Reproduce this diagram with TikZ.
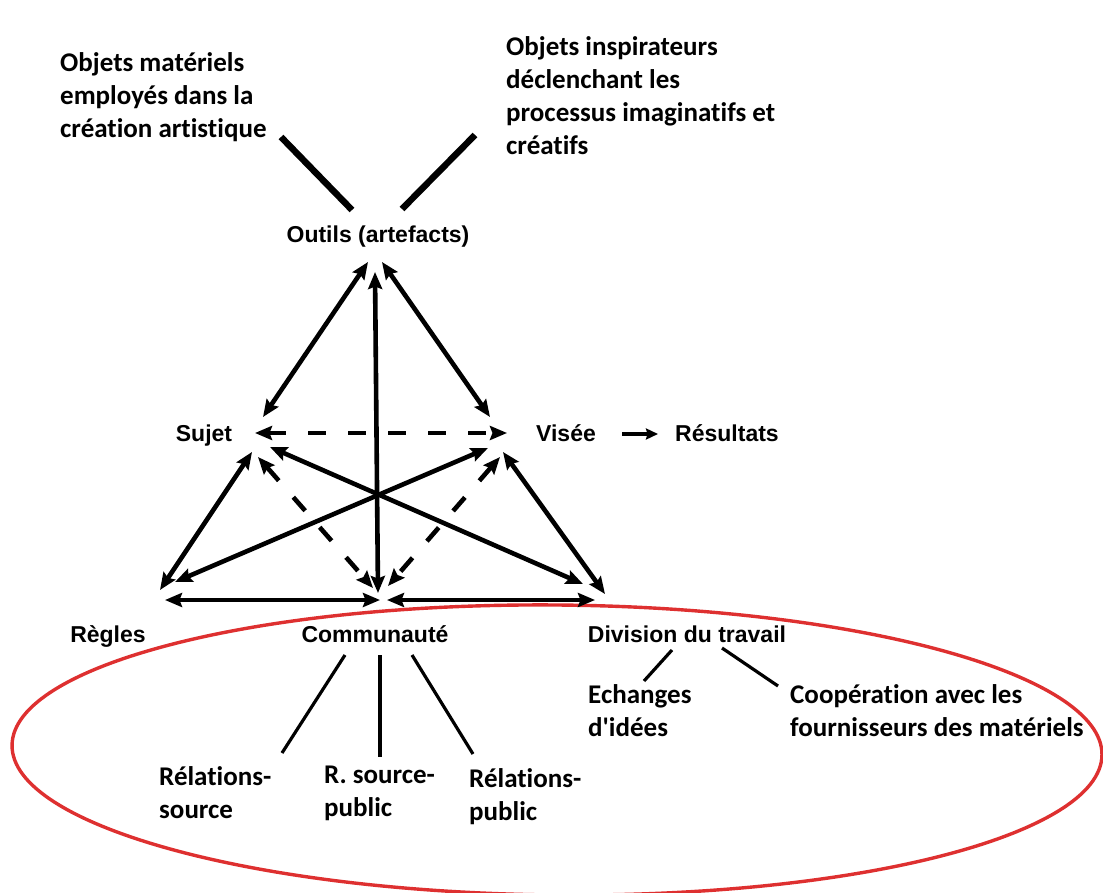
\documentclass[tikz,border=0pt]{standalone}
\usepackage{fontspec}
\setmainfont{Liberation Sans}
\newfontfamily\calib[Ligatures={NoCommon}]{Carlito}
\usetikzlibrary{arrows.meta}
\definecolor{ovalred}{RGB}{222,48,48}
\begin{document}
\begin{tikzpicture}[x=1pt,y=-1pt,
  lab/.style={font=\fontsize{23}{27}\selectfont\bfseries, inner sep=0pt, anchor=base},
  note/.style={font=\calib\fontsize{27}{33}\selectfont\bfseries, align=left, inner sep=0pt, anchor=north west},
  both/.style={line width=4.6pt, {Stealth[length=17pt,width=14pt,inset=2.5pt]}-{Stealth[length=17pt,width=14pt,inset=2.5pt]}},
  dashedboth/.style={both, dash pattern=on 18pt off 22pt},
  stem/.style={line width=6.5pt},
  branch/.style={line width=3.2pt}
]
\useasboundingbox (0,0) rectangle (1103,893);

% red oval around the community side
\draw[ovalred, line width=3.4pt, rotate around={-0.5:(557,750)}] (557,750) ellipse [x radius=545, y radius=145];

% descriptive texts
\node[note] (mat) at (60,52) {Objets matériels\\employés dans la\\création artistique};
\node[note] (insp) at (506,36) {Objets inspirateurs\\déclenchant les\\processus imaginatifs et\\créatifs};

% poles of the activity system
\node[lab] (outils) at (378,243) {Outils (artefacts)};
\node[lab] (sujet) at (204,441) {Sujet};
\node[lab] (visee) at (566,441) {Visée};
\node[lab] (result) at (727,441) {Résultats};
\node[lab] (regles) at (108,642) {Règles};
\node[lab] (comm) at (375,642) {Communauté};
\node[lab] (div) at (687,642) {Division du travail};

% sub-relations
\node[note] (rs) at (159,766) {Rélations-\\source};
\node[note] (rsp) at (324,766) {R. source-\\public};
\node[note] (rp) at (469,768) {Rélations-\\public};
\node[note] (ech) at (588,684) {Echanges\\d'idées};
\node[note] (coop) at (790,684) {Coopération avec les\\fournisseurs des matériels};

% end points of the connectors
\coordinate (oL) at (368,262);
\coordinate (oM) at (375,272);
\coordinate (oR) at (382,262);
\coordinate (sT) at (263,417);
\coordinate (sE) at (255,433);
\coordinate (sX) at (270,447);
\coordinate (sB) at (252,452);
\coordinate (sD) at (258,457);
\coordinate (vT) at (490,417);
\coordinate (vW) at (507,433);
\coordinate (vX) at (488,448);
\coordinate (vB) at (503,452);
\coordinate (vD) at (500,457);
\coordinate (vOut) at (622,434);
\coordinate (rIn) at (658,434);
\coordinate (rX) at (175,582);
\coordinate (rS) at (160,590);
\coordinate (rH) at (165,600);
\coordinate (cM) at (378,593);
\coordinate (cL) at (373,588);
\coordinate (cR) at (388,586);
\coordinate (cHL) at (380,600);
\coordinate (cHR) at (387,600);
\coordinate (dX) at (583,584);
\coordinate (dV) at (605,594);
\coordinate (dH) at (595,600);

% triangle of mediations
\draw[both] (oL) -- (sT);
\draw[both] (oR) -- (vT);
\draw[both] (oM) -- (cM);
\draw[dashedboth] (sE) -- (vW);
\draw[both] (sX) -- (dX);
\draw[both] (vX) -- (rX);
\draw[both] (sB) -- (rS);
\draw[both] (vB) -- (dV);
\draw[dashedboth] (sD) -- (cL);
\draw[dashedboth] (vD) -- (cR);
\draw[both] (rH) -- (cHL);
\draw[both] (cHR) -- (dH);
\draw[line width=3.4pt, -{Stealth[length=12pt,width=11pt,inset=1.5pt]}] (vOut) -- (rIn);

% links from the tools to their descriptions
\coordinate (mA) at (281,137);
\coordinate (mB) at (352,210);
\coordinate (iA) at (475,135);
\coordinate (iB) at (402,209);
\draw[stem] (mA) -- (mB);
\draw[stem] (iA) -- (iB);

% links from community and division of labour
\coordinate (c1) at (345,655);
\coordinate (c2) at (380,655);
\coordinate (c3) at (412,655);
\coordinate (rs1) at (282,753);
\coordinate (rsp1) at (380,757);
\coordinate (rp1) at (473,754);
\coordinate (d1) at (672,650);
\coordinate (d2) at (722,648);
\coordinate (e1) at (644,681);
\coordinate (k1) at (778,686);
\draw[branch] (c1) -- (rs1);
\draw[branch] (c2) -- (rsp1);
\draw[branch] (c3) -- (rp1);
\draw[branch] (d1) -- (e1);
\draw[branch] (d2) -- (k1);
\end{tikzpicture}
\end{document}
